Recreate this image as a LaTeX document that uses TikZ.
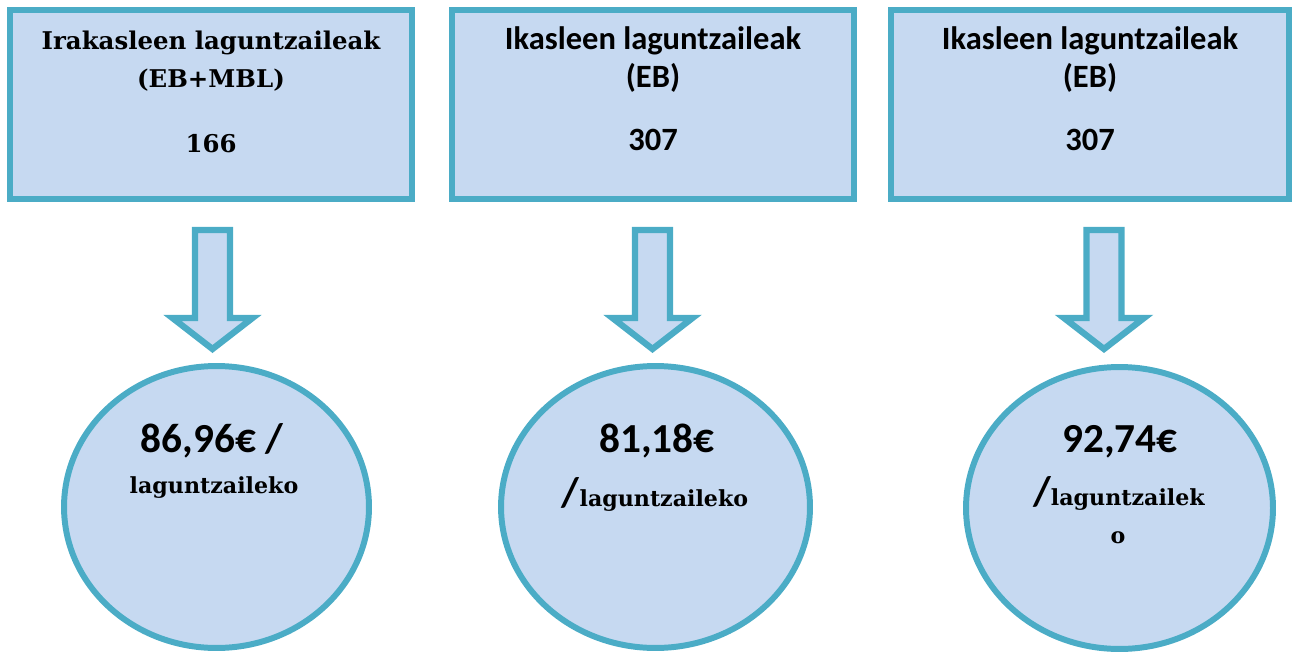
\documentclass[tikz,border=0pt]{standalone}
\usepackage{fontspec}
\setmainfont{Carlito}
\newfontfamily\slabfont{DejaVu Serif}
\usetikzlibrary{calc, shapes.geometric}

\definecolor{paleblue}{HTML}{C6D9F1}
\definecolor{aqua}{HTML}{4BACC6}

\begin{document}
\begin{tikzpicture}[x=0.02cm, y=-0.02cm,
		box/.style={draw=aqua, fill=paleblue, line width=3.4pt, inner sep=0pt,
			minimum width=8.04cm, minimum height=3.78cm},
		blob/.style={ellipse, draw=aqua, fill=paleblue, line width=3.4pt, inner sep=0pt,
			minimum height=5.64cm},
		downarrow/.style={draw=aqua, fill=paleblue, line width=3.6pt},
		slabtext/.style={anchor=base, font=\slabfont\bfseries\fontsize{13.9}{16}\selectfont},
		sanstext/.style={anchor=base, font=\bfseries\fontsize{18.5}{21}\selectfont},
		amount/.style={anchor=base, font=\bfseries\fontsize{23.5}{28}\selectfont},
		perhead/.style={anchor=base, font=\slabfont\bfseries\fontsize{12.6}{15}\selectfont}]
		\useasboundingbox (0,0) rectangle (1293,652);

		% boxes on top
		\node [box] (irakasle) at (211,104.5) {};
		\node [box] (ikasle) at (653,104.5) {};
		\node [box, minimum width=7.96cm] (ikasleb) at (1090,104.5) {};

		\node [slabtext] (irakasle title) at (211,50) {Irakasleen laguntzaileak};
		\node [slabtext] (irakasle group) at (211,88) {(EB+MBL)};
		\node [slabtext] (irakasle count) at (211,152) {166};

		\node [sanstext] (ikasle title) at (653,50) {Ikasleen laguntzaileak};
		\node [sanstext] (ikasle group) at (653,88) {(EB)};
		\node [sanstext] (ikasle count) at (653,150) {307};

		\node [sanstext] (ikasleb title) at (1090,50) {Ikasleen laguntzaileak};
		\node [sanstext] (ikasleb group) at (1090,88) {(EB)};
		\node [sanstext] (ikasleb count) at (1090,150) {307};

		% block arrows
		\coordinate (arrow 1) at (212.5,230);
		\coordinate (arrow 2) at (652.5,230);
		\coordinate (arrow 3) at (1104,230);
		\foreach \a in {1,2,3} {
			\draw [downarrow] ($(arrow \a)+(-17.5,0)$) -- ++(35,0) -- ++(0,88) -- ++(22.5,0)
				-- ($(arrow \a)+(0,119)$) -- ($(arrow \a)+(-40,88)$) -- ++(22.5,0) -- cycle;
		}

		% cost per assistant
		\node [blob, minimum width=6.1cm] (cost 1) at (216.5,507) {};
		\node [blob, minimum width=6.18cm] (cost 2) at (655.5,507) {};
		\node [blob, minimum width=6.14cm] (cost 3) at (1119.5,508) {};

		\node [amount] (cost 1 sum) at (212,452) {86,96€ /};
		\node [perhead] (cost 1 unit) at (214,493) {laguntzaileko};

		\node [amount] (cost 2 sum) at (657,452) {81,18€};
		\node [anchor=base] (cost 2 unit) at (655,506)
			{\bfseries\fontsize{23.5}{28}\selectfont /\slabfont\fontsize{12.6}{15}\selectfont laguntzaileko};

		\node [amount] (cost 3 sum) at (1120,452) {92,74€};
		\node [anchor=base] (cost 3 unit) at (1119,505)
			{\bfseries\fontsize{23.5}{28}\selectfont /\slabfont\fontsize{12.6}{15}\selectfont laguntzailek};
		\node [perhead] (cost 3 tail) at (1118,543) {o};
	\end{tikzpicture}
\end{document}
